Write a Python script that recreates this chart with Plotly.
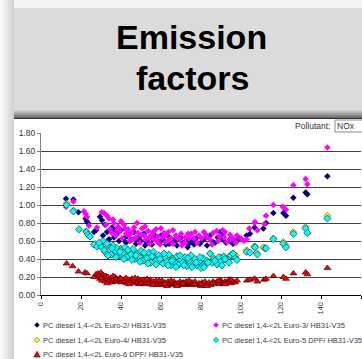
import plotly.graph_objects as go

# ---------------- data (speed km/h, NOx g/km) ----------------
euro2_speed = [12.5, 16.2, 18.7, 22.3, 22.8, 23.5, 26.5, 27.5, 29.5, 30.5, 31, 33, 34, 35.5, 36.5, 38, 39, 40,
               41.5, 42.5, 44, 45, 46.5, 47.5, 49, 50, 51.5, 53, 54, 55.5, 57, 58, 59.5, 61, 62.5, 63.7, 65,
               66.5, 68, 69.5, 71, 72.5, 73.3, 75, 76.5, 78, 79.5, 81, 83, 84.5, 86, 88.3, 89.5, 90.8, 92.5,
               94.5, 96, 97.5, 102.8, 104.5, 106.8, 111.2, 112.5, 116.2, 121.2, 122.5, 126.2, 132.3, 133.2, 143.2,
               32, 37, 43, 48, 52, 56, 60, 64, 67, 70, 74, 77, 82, 87, 91, 95, 99]
euro2_nox = [1.07, 1.06, 0.92, 0.85, 0.82, 0.80, 0.70, 0.72, 0.87, 0.83, 0.66, 0.70, 0.62, 0.75, 0.64, 0.68, 0.60,
             0.72, 0.63, 0.58, 0.67, 0.61, 0.70, 0.57, 0.64, 0.60, 0.68, 0.58, 0.63, 0.56, 0.66, 0.60, 0.59, 0.62,
             0.56, 0.65, 0.58, 0.61, 0.55, 0.63, 0.58, 0.60, 0.53, 0.60, 0.56, 0.64, 0.57, 0.61, 0.55, 0.66, 0.59,
             0.64, 0.70, 0.66, 0.58, 0.62, 0.57, 0.60, 0.66, 0.68, 0.75, 0.74, 0.80, 0.91, 0.91, 0.88, 1.08, 1.14,
             1.12, 1.32,
             0.78, 0.72, 0.65, 0.62, 0.55, 0.62, 0.66, 0.57, 0.60, 0.64, 0.57, 0.60, 0.63, 0.58, 0.62, 0.59, 0.63]

euro3_speed = [12.5, 16.2, 21.5, 22.3, 23, 24, 28, 30.3, 31.5, 32.5, 34, 34.5, 35.5, 36.5, 37.5, 38.5, 39.5, 40.5,
               41.5, 42.5, 43.5, 44.5, 45.5, 46.5, 47.5, 48.5, 49.5, 50.5, 51.5, 52.5, 53.5, 54.5, 55.5, 56.5,
               57.5, 58.5, 59.5, 60.5, 61.5, 62.5, 63.7, 65, 66, 67.5, 69.5, 70.5, 72, 73.5, 75, 76.5, 78, 80.3,
               81.5, 82.5, 84.5, 85.5, 87.8, 88.5, 90.8, 91.5, 93, 94.5, 96, 97.5, 101.5, 102.8, 104.2, 106.8,
               107, 108.2, 111.7, 112.5, 116.2, 120.8, 122.5, 126.2, 132.3, 133.2, 143.2,
               33, 36, 38, 40, 42, 44, 46, 48, 50, 52, 54, 56, 58, 60, 62, 64, 66, 68, 70, 72, 74, 77, 79, 83,
               86, 89, 92, 95, 98, 100]
euro3_nox = [0.98, 1.04, 0.93, 0.90, 0.87, 0.77, 0.75, 0.92, 0.91, 0.78, 0.85, 0.73, 0.69, 0.80, 0.66, 0.76, 0.71,
             0.63, 0.78, 0.68, 0.73, 0.60, 0.70, 0.75, 0.64, 0.69, 0.58, 0.74, 0.66, 0.62, 0.71, 0.57, 0.67, 0.62,
             0.73, 0.65, 0.56, 0.64, 0.69, 0.59, 0.70, 0.63, 0.57, 0.66, 0.61, 0.55, 0.64, 0.68, 0.68, 0.63, 0.58,
             0.63, 0.70, 0.67, 0.62, 0.56, 0.71, 0.60, 0.72, 0.64, 0.59, 0.67, 0.63, 0.58, 0.60, 0.62, 0.74, 0.80,
             0.81, 0.72, 0.79, 0.88, 1.00, 0.98, 0.95, 1.22, 1.29, 1.23, 1.64,
             0.88, 0.84, 0.72, 0.82, 0.74, 0.66, 0.62, 0.80, 0.67, 0.76, 0.64, 0.70, 0.60, 0.74, 0.66, 0.61, 0.72,
             0.64, 0.68, 0.58, 0.63, 0.70, 0.66, 0.64, 0.69, 0.66, 0.70, 0.62, 0.66, 0.63]

euro4_speed = [12.8, 16.2, 22.5, 27, 32, 36, 40, 45, 50, 55, 60, 65, 70, 75, 80, 85, 90, 95, 97.5, 102.8,
               107.8, 111.2, 116.2, 121.2, 122.5, 126.2, 132.3, 143.2]
euro4_nox = [1.02, 0.94, 0.71, 0.57, 0.55, 0.50, 0.52, 0.47, 0.46, 0.44, 0.41, 0.42, 0.40, 0.41, 0.39, 0.45, 0.42,
             0.45, 0.44, 0.50, 0.47, 0.53, 0.63, 0.59, 0.55, 0.70, 0.76, 0.88]

euro5_speed = [12.8, 16.2, 19, 22.8, 23.5, 24.5, 26.5, 28, 30.3, 31, 32, 33, 34, 35, 36, 37, 38, 39, 40, 41, 42,
               43, 44, 45, 46, 47, 48, 49, 50, 51, 52, 53, 54, 55, 56.2, 57, 58, 59, 60.3, 61, 62, 63, 64, 65, 66,
               67, 68, 69, 70, 71, 72, 73, 74, 75, 76, 77, 78, 79, 80, 81, 82, 83, 84.5, 85.5, 86.5, 88, 89, 90,
               91.5, 93, 95, 97, 102.8, 104.5, 106.8, 107, 108.2, 112, 112.5, 116.2, 121.2, 122.5, 126.2, 132.3,
               133.2, 143.2,
               29, 31.5, 33.5, 35.5, 37.5, 39.5, 41.5, 43.5, 45.5, 47.5, 49.5, 51.5, 53.5, 55.5, 57.5, 59.5, 61.5,
               63.5, 65.5, 67.5, 69.5, 71.5, 73.5, 75.5, 77.5, 79.5, 81.5, 83.5, 87, 90.5, 92, 94, 96, 98]
euro5_nox = [1.00, 0.93, 0.73, 0.70, 0.67, 0.65, 0.56, 0.54, 0.53, 0.60, 0.48, 0.57, 0.50, 0.45, 0.55, 0.49, 0.52,
             0.44, 0.50, 0.47, 0.53, 0.42, 0.48, 0.45, 0.51, 0.40, 0.46, 0.43, 0.49, 0.38, 0.45, 0.41, 0.47, 0.36,
             0.48, 0.42, 0.39, 0.44, 0.39, 0.35, 0.42, 0.37, 0.45, 0.33, 0.40, 0.36, 0.43, 0.34, 0.39, 0.36, 0.42,
             0.32, 0.38, 0.44, 0.35, 0.40, 0.33, 0.37, 0.30, 0.41, 0.35, 0.38, 0.46, 0.36, 0.40, 0.34, 0.42, 0.37,
             0.43, 0.39, 0.44, 0.42, 0.48, 0.47, 0.54, 0.53, 0.45, 0.52, 0.52, 0.62, 0.57, 0.53, 0.68, 0.74, 0.69,
             0.85,
             0.58, 0.50, 0.44, 0.52, 0.42, 0.48, 0.40, 0.50, 0.39, 0.44, 0.37, 0.47, 0.35, 0.43, 0.34, 0.40, 0.46,
             0.33, 0.38, 0.31, 0.44, 0.33, 0.41, 0.31, 0.36, 0.42, 0.31, 0.36, 0.38, 0.33, 0.40, 0.36, 0.46, 0.39]

euro6_speed = [12.8, 15.8, 18.7, 22, 23, 26.5, 27.5, 28.5, 29, 29.5, 30, 30.5, 31, 31.5, 32, 32.5, 33, 33.5, 34,
               35, 35.5, 36, 37, 37.5, 38, 39, 39.5, 40, 41, 42, 42.5, 43, 44, 45, 45.5, 46, 47, 48, 48.5, 49, 50,
               51, 51.5, 52, 53, 54, 54.5, 55, 56, 57, 57.5, 58, 59, 60, 60.5, 61, 62, 63, 63.5, 64, 65, 66, 66.5,
               67, 68, 69, 69.5, 70, 71, 72, 72.5, 73, 74, 75, 75.5, 76, 77, 78, 79, 80, 80.5, 81, 82, 83, 84, 85,
               86, 87, 88, 89, 90, 91, 92, 93, 94, 95, 96, 97, 98, 103, 104.5, 106.8, 108.2, 111.5, 112.5, 116.2,
               121.2, 122.5, 126.2, 132.3, 133.2, 143.2,
               30, 33, 36, 40, 44, 47, 50, 53, 56, 59, 62, 65, 68, 71, 74, 77, 80, 83, 86, 89, 92, 95]
euro6_nox = [0.35, 0.32, 0.26, 0.25, 0.24, 0.20, 0.23, 0.24, 0.21, 0.18, 0.25, 0.16, 0.22, 0.19, 0.15, 0.21, 0.18,
             0.20, 0.16, 0.19, 0.14, 0.17, 0.20, 0.15, 0.18, 0.16, 0.19, 0.14, 0.17, 0.15, 0.19, 0.13, 0.17, 0.15,
             0.18, 0.13, 0.16, 0.14, 0.18, 0.12, 0.16, 0.14, 0.17, 0.12, 0.15, 0.13, 0.17, 0.12, 0.15, 0.13, 0.16,
             0.11, 0.14, 0.12, 0.16, 0.11, 0.14, 0.10, 0.15, 0.12, 0.14, 0.11, 0.15, 0.12, 0.13, 0.11, 0.15, 0.12,
             0.14, 0.11, 0.15, 0.12, 0.13, 0.11, 0.14, 0.12, 0.15, 0.11, 0.13, 0.10, 0.14, 0.12, 0.15, 0.12, 0.14,
             0.11, 0.15, 0.13, 0.15, 0.12, 0.16, 0.13, 0.15, 0.14, 0.17, 0.13, 0.15, 0.14, 0.16, 0.16, 0.17, 0.18,
             0.15, 0.17, 0.18, 0.21, 0.20, 0.18, 0.24, 0.25, 0.23, 0.30,
             0.19, 0.13, 0.21, 0.18, 0.12, 0.19, 0.13, 0.18, 0.11, 0.16, 0.12, 0.16, 0.10, 0.13, 0.16, 0.12, 0.12,
             0.10, 0.13, 0.16, 0.12, 0.17]

series_names = ["PC diesel 1,4-<2L Euro-2/ HB31-V35",
                "PC diesel 1,4-<2L Euro-3/ HB31-V35",
                "PC diesel 1,4-<2L Euro-4/ HB31-V35",
                "PC diesel 1,4-<2L Euro-5 DPF/ HB31-V35",
                "PC diesel 1,4-<2L Euro-6 DPF/ HB31-V35"]

title_lines = ["Emission", "factors"]
pollutant_label = "Pollutant:"
pollutant_value = "NOx"

# ---------------- geometry helpers ----------------
W, H = 362, 359
ML, MR, MT, MB = 41, 1, 133, 64
PW = W - ML - MR
PH = H - MT - MB


def pxx(x):
    return (x - ML) / PW


def pxy(y):
    return (H - MB - y) / PH


FONT = "Liberation Sans, Arial, sans-serif"

fig = go.Figure()

fills = ["#000080", "#FF00FF", "#FFFF00", "#00FFFF", "#FF0000"]
edges = [None, None, "#5a5a20", "#1a3a3a", "#400000"]
symbols = ["diamond", "diamond", "diamond", "diamond", "triangle-up"]
sizes = [5, 5, 5, 5.5, 6]
xs = [euro2_speed, euro3_speed, euro4_speed, euro5_speed, euro6_speed]
ys = [euro2_nox, euro3_nox, euro4_nox, euro5_nox, euro6_nox]

for name, x, y, f, e, s, sz in zip(series_names, xs, ys, fills, edges, symbols, sizes):
    line = dict(width=0) if e is None else dict(width=0.7, color=e)
    fig.add_trace(go.Scatter(x=x, y=y, mode="markers", name=name, showlegend=False,
                             marker=dict(symbol=s, size=sz, color=f, line=line),
                             cliponaxis=False))

shapes = []


def rect(x0, y0, x1, y1, color, layer="below", line=None):
    shapes.append(dict(type="rect", xref="paper", yref="paper", layer=layer,
                       x0=pxx(x0), x1=pxx(x1), y0=pxy(y1), y1=pxy(y0),
                       fillcolor=color, line=line or dict(width=0)))


def mix(c1, c2, t):
    a = [int(c1[i:i + 2], 16) for i in (1, 3, 5)]
    b = [int(c2[i:i + 2], 16) for i in (1, 3, 5)]
    return "#%02x%02x%02x" % tuple(round(a[k] + (b[k] - a[k]) * t) for k in range(3))


rect(0, 0, W, H, "#f3f3f3")
# left shadow
for i in range(7):
    rect(2 * i, 0, 2 * i + 2, H, mix("#fafafa", "#d2d2d2", i / 6))
# title panel
rect(14, 8, W, 110, "#dbdbdb")
# gradient bar under title, darkening to a thin line
for i in range(8):
    rect(14, 110 + i, W, 111 + i, mix("#d0d0d0", "#6a6a6a", i / 7))
rect(14, 118, W, 119, "#303030")
# chart panel
rect(14, 119, W, H, "#ffffff")
# pollutant box
rect(335, 120, 364, 132, "white", layer="above", line=dict(width=1, color="#8a8a8a"))

# legend keys (drawn as small shapes) + legend texts
legend_pos = [(37, 325), (216, 325), (37, 340), (216, 340), (37, 354.5)]
annotations = []
for (lx, ly), name, f, e, s in zip(legend_pos, series_names, fills, edges, symbols):
    if s == "diamond":
        r = 2.7
        pts = [(lx, ly - r), (lx + r, ly), (lx, ly + r), (lx - r, ly)]
    else:
        r = 3.2
        pts = [(lx, ly - r), (lx + r, ly + r * 0.8), (lx - r, ly + r * 0.8)]
    path = "M " + " L ".join("%.5f,%.5f" % (pxx(a), pxy(b)) for a, b in pts) + " Z"
    shapes.append(dict(type="path", xref="paper", yref="paper", layer="above", path=path,
                       fillcolor=f, line=dict(width=0.6 if e else 0, color=e or f)))
    annotations.append(dict(text=name, x=pxx(lx + 4.5), y=pxy(ly), xref="paper", yref="paper",
                            showarrow=False, xanchor="left", yanchor="middle", borderpad=0,
                            font=dict(family=FONT, size=7.5, color="#3c3c46")))

annotations += [
    dict(text=title_lines[0], x=pxx(191), y=pxy(37), xref="paper", yref="paper",
         showarrow=False, xanchor="center", yanchor="middle",
         font=dict(family=FONT, size=34, color="#000000", weight="bold")),
    dict(text=title_lines[1], x=pxx(192), y=pxy(78), xref="paper", yref="paper",
         showarrow=False, xanchor="center", yanchor="middle",
         font=dict(family=FONT, size=34, color="#000000", weight="bold")),
    dict(text=pollutant_label, x=pxx(331), y=pxy(126), xref="paper", yref="paper",
         showarrow=False, xanchor="right", yanchor="middle", borderpad=0,
         font=dict(family=FONT, size=8.5, color="#333333")),
    dict(text=pollutant_value, x=pxx(336), y=pxy(126), xref="paper", yref="paper",
         showarrow=False, xanchor="left", yanchor="middle", borderpad=0,
         font=dict(family=FONT, size=8.5, color="#333333")),
]

fig.update_layout(
    width=W, height=H, autosize=False,
    margin=dict(l=ML, r=MR, t=MT, b=MB, pad=0, autoexpand=False),
    paper_bgcolor="#f3f3f3", plot_bgcolor="white",
    showlegend=False,
    shapes=shapes, annotations=annotations,
    xaxis=dict(range=[0, 160], dtick=20, tick0=0, tickangle=-90, ticks="outside", ticklen=3,
               tickcolor="#000000", showline=True, linecolor="#000000", linewidth=1,
               showgrid=False, zeroline=False,
               tickfont=dict(family=FONT, size=7.5, color="#333333")),
    yaxis=dict(range=[0, 1.8], dtick=0.2, tick0=0, tickformat=".2f", ticks="outside", ticklen=3,
               tickcolor="#808080", showline=True, linecolor="#808080", linewidth=1,
               showgrid=True, gridcolor="#404040", gridwidth=1, zeroline=False,
               tickfont=dict(family=FONT, size=8.5, color="#333333")),
)

fig.write_html("out.html", config={"displayModeBar": False},
               post_script="document.body.style.margin='0';document.body.style.overflow='hidden';")
